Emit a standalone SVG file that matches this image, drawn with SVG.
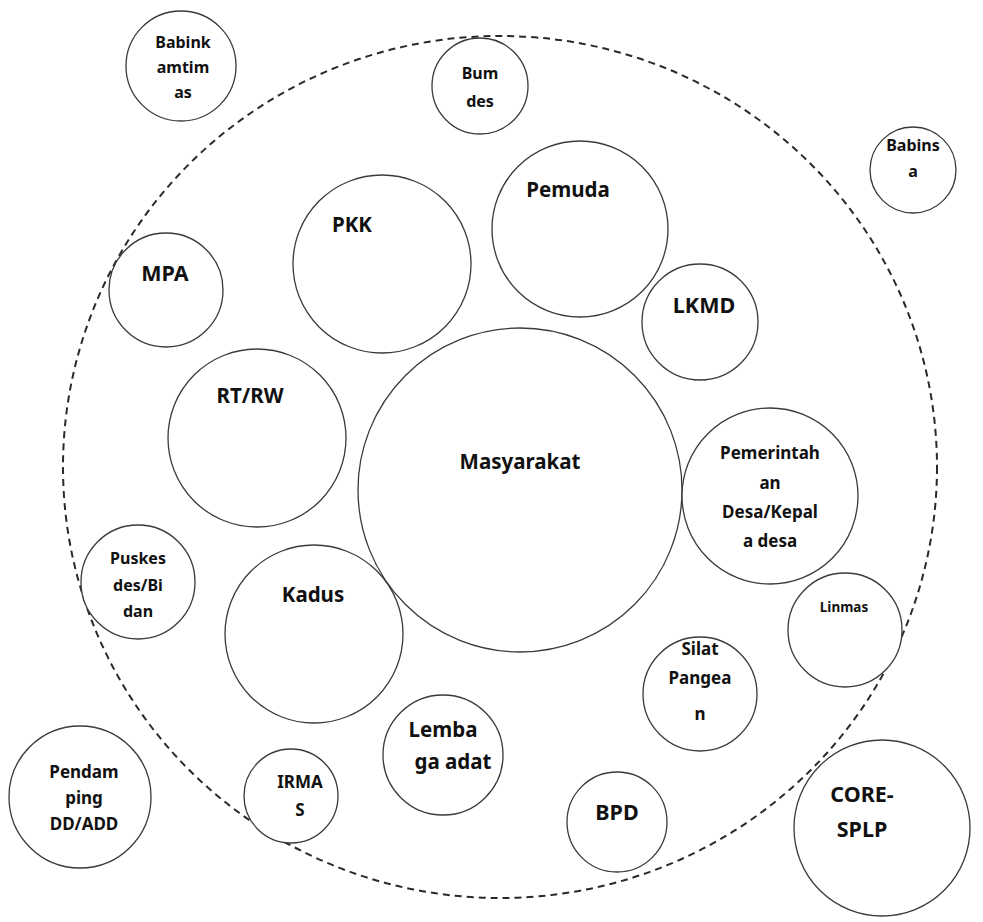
<svg xmlns="http://www.w3.org/2000/svg" width="983" height="922" viewBox="0 0 983 922">
<style>
.n{fill:#fff;stroke:#3a3a3a;stroke-width:1.3}
.t{font-family:"Noto Sans","Open Sans",sans-serif;font-weight:700;fill:#111;text-anchor:middle}
.b{font-size:20.5px}
.bb{font-size:21.5px}
.m{font-size:17px}
.s{font-size:16px}
.xs{font-size:13.5px}
.boundary{fill:none;stroke:#2a2a2a;stroke-width:2;stroke-dasharray:7 5}
</style>
<rect width="983" height="922" fill="#fff"/>
<g id="connectors">
<ellipse class="boundary" cx="500" cy="467" rx="437" ry="431"/>
</g>
<g id="babinkamtimas"><circle class="n" cx="181" cy="66" r="55"/>
<text class="t s" x="183" y="48">Babink</text><text class="t s" x="183" y="73">amtim</text><text class="t s" x="183" y="98">as</text></g>
<g id="bumdes"><circle class="n" cx="480" cy="86" r="48"/>
<text class="t s" x="480" y="79">Bum</text><text class="t s" x="480" y="107">des</text></g>
<g id="babinsa"><circle class="n" cx="913" cy="170" r="43"/>
<text class="t s" x="913" y="151">Babins</text><text class="t s" x="913" y="177">a</text></g>
<g id="pemuda"><circle class="n" cx="580" cy="229" r="88"/>
<text class="t b" x="568" y="197">Pemuda</text></g>
<g id="pkk"><circle class="n" cx="382" cy="264" r="89"/>
<text class="t b" x="352" y="232">PKK</text></g>
<g id="mpa"><circle class="n" cx="166" cy="290" r="57"/>
<text class="t bb" x="165" y="281">MPA</text></g>
<g id="lkmd"><circle class="n" cx="700" cy="322" r="58"/>
<text class="t bb" x="704" y="313">LKMD</text></g>
<g id="rtrw"><circle class="n" cx="257" cy="438" r="89"/>
<text class="t b" x="250" y="403">RT/RW</text></g>
<g id="masyarakat"><circle class="n" cx="520" cy="490" r="162"/>
<text class="t b" x="520" y="469">Masyarakat</text></g>
<g id="pemerintahan"><circle class="n" cx="770" cy="496" r="88"/>
<text class="t m" x="770" y="459">Pemerintah</text><text class="t m" x="770" y="489">an</text><text class="t m" x="770" y="518">Desa/Kepal</text><text class="t m" x="770" y="547">a desa</text></g>
<g id="puskesdes"><circle class="n" cx="138" cy="582" r="57"/>
<text class="t s" x="138" y="564">Puskes</text><text class="t s" x="138" y="591">des/Bi</text><text class="t s" x="138" y="617">dan</text></g>
<g id="kadus"><circle class="n" cx="314" cy="634" r="89"/>
<text class="t b" x="313" y="602">Kadus</text></g>
<g id="linmas"><circle class="n" cx="845" cy="630" r="57"/>
<text class="t xs" x="844" y="612">Linmas</text></g>
<g id="silat"><circle class="n" cx="700" cy="694" r="57"/>
<text class="t m" x="700" y="655">Silat</text><text class="t m" x="700" y="684">Pangea</text><text class="t m" x="700" y="720">n</text></g>
<g id="lembaga"><circle class="n" cx="443" cy="755" r="60"/>
<text class="t b" x="443" y="737">Lemba</text><text class="t b" x="453" y="769">ga adat</text></g>
<g id="irmas"><circle class="n" cx="291" cy="796" r="47"/>
<text class="t m" x="300" y="788">IRMA</text><text class="t m" x="300" y="816">S</text></g>
<g id="pendamping"><circle class="n" cx="80" cy="797" r="71"/>
<text class="t m" x="84" y="778">Pendam</text><text class="t m" x="84" y="804">ping</text><text class="t m" x="84" y="830">DD/ADD</text></g>
<g id="bpd"><circle class="n" cx="617" cy="822" r="50"/>
<text class="t bb" x="617" y="820">BPD</text></g>
<g id="core-splp"><circle class="n" cx="882" cy="828" r="88"/>
<text class="t bb" x="862" y="802">CORE-</text><text class="t bb" x="862" y="837">SPLP</text></g>
</svg>
